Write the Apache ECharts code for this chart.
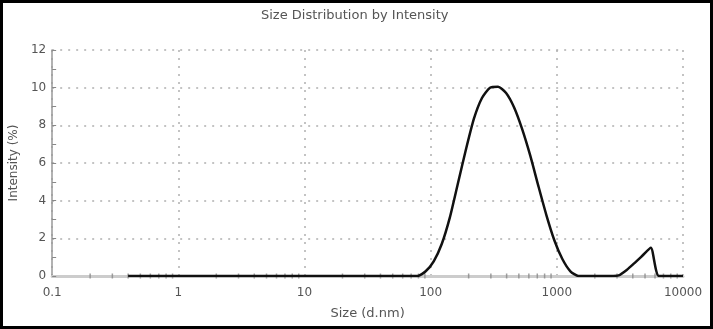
<!DOCTYPE html>
<html>
<head>
<meta charset="utf-8">
<script src="https://cdn.jsdelivr.net/npm/echarts@6/dist/echarts.min.js"></script>
<style>
  body{ margin:0; background:#fff; }
  .chart{ position:absolute; left:0; top:0; width:713px; height:329px; }
  .frame{ position:absolute; left:0; top:0; width:713px; height:329px;
          box-sizing:border-box; border:3px solid #000; pointer-events:none; }
</style>
</head>
<body>
<div class="chart" id="main"></div>
<div class="frame"></div>
<script>
// size bins (d.nm) and intensity (%)
var sizes = [0.4, 78.82, 91.28, 105.7, 122.4, 141.8, 164.2, 190.1, 220.2, 255, 295.3, 342,
  396.1, 458.7, 531.2, 615.1, 712.4, 825, 955.4, 1106, 1281, 1484, 2669, 3091, 3580,
  4145, 4801, 5560, 6439, 10000];
var intensity = [0, 0, 0.25, 0.78, 1.7, 3.1, 4.9, 6.7, 8.35, 9.45, 10.0, 10.05,
  9.72, 8.95, 7.8, 6.4, 4.8, 3.25, 1.9, 0.9, 0.25, 0, 0, 0.03, 0.32,
  0.7, 1.1, 1.5, 0, 0];
// minor tick positions on the log size axis
var minorTicks = [0.2, 0.3, 0.4, 0.5, 0.6, 0.7, 0.8, 0.9,
  2, 3, 4, 5, 6, 7, 8, 9,
  20, 30, 40, 50, 60, 70, 80, 90,
  200, 300, 400, 500, 600, 700, 800, 900,
  2000, 3000, 4000, 5000, 6000, 7000, 8000, 9000];

var myChart = echarts.init(document.getElementById('main'));
var data = [];
for (var i = 0; i < sizes.length; i++) {
  data.push([sizes[i], intensity[i]]);
}
var tickData = [];
for (var j = 0; j < minorTicks.length; j++) {
  tickData.push([minorTicks[j], 0]);
}
var font = 'DejaVu Sans, sans-serif';
var gridDots = { color: '#b0b0b0', type: [2, 6], width: 1.5 };
var opt = {
  animation: false,
  title: {
    text: 'Size Distribution by Intensity',
    left: 256,
    top: 4,
    textStyle: { fontFamily: font, fontSize: 13, fontWeight: 'normal', color: '#555' }
  },
  grid: { left: 52, right: 30, top: 50, bottom: 53 },
  xAxis: {
    type: 'log',
    logBase: 10,
    min: 0.1,
    max: 10000,
    name: 'Size (d.nm)',
    nameLocation: 'middle',
    nameGap: 31,
    nameTextStyle: { fontFamily: font, fontSize: 13, color: '#555' },
    axisLine: { show: true, onZero: false, lineStyle: { color: '#cccccc', width: 3 } },
    axisTick: { show: false },
    axisLabel: {
      fontFamily: font, fontSize: 12, color: '#555', margin: 11,
      formatter: function (v) { return String(v); }
    },
    splitLine: { show: true, lineStyle: gridDots }
  },
  yAxis: {
    type: 'value',
    min: 0,
    max: 12,
    interval: 2,
    name: 'Intensity (%)',
    nameLocation: 'middle',
    nameGap: 30,
    nameTextStyle: { fontFamily: font, fontSize: 12, color: '#555' },
    axisLine: { show: true, lineStyle: { color: '#999', width: 1.5 } },
    axisTick: { show: true, inside: true, length: 4, lineStyle: { color: '#888' } },
    minorTick: { show: true, splitNumber: 2, length: 4, lineStyle: { color: '#888' } },
    axisLabel: { fontFamily: font, fontSize: 12, color: '#555', margin: 6 },
    splitLine: { show: true, lineStyle: gridDots }
  },
  series: [
    {
      type: 'scatter',
      data: tickData,
      symbol: 'rect',
      symbolSize: [1.5, 5],
      itemStyle: { color: '#888' },
      silent: true,
      z: 1
    },
    {
      type: 'line',
      data: data,
      showSymbol: false,
      smooth: 0.2,
      lineStyle: { color: '#111', width: 2.5 },
      z: 3
    }
  ]
};
myChart.setOption(opt);
</script>
</body>
</html>
